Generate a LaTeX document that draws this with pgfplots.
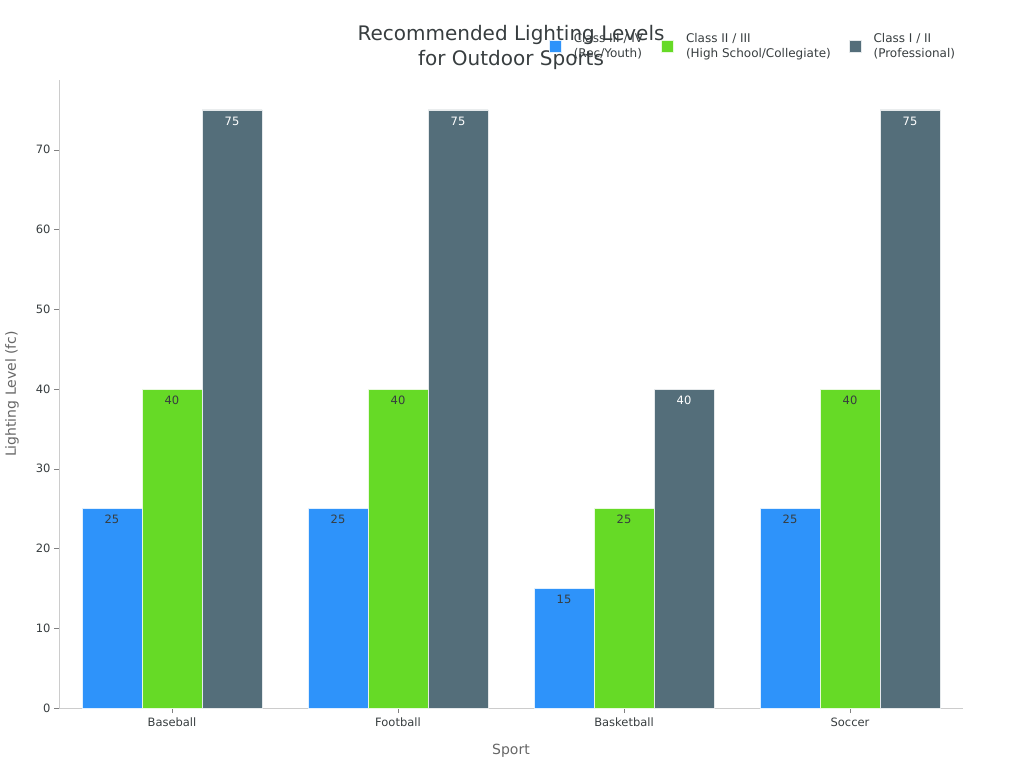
\documentclass[border=0pt]{standalone}
\usepackage{pgfplots}
\pgfplotsset{compat=1.18}
\usepackage{fontspec}
\setmainfont{DejaVu Sans}

\definecolor{cBlue}{HTML}{2E93FA}
\definecolor{cGreen}{HTML}{66DA26}
\definecolor{cGray}{HTML}{546E7A}
\definecolor{txt}{HTML}{373D3F}
\definecolor{axgray}{HTML}{CCCCCC}

\begin{document}
\begin{tikzpicture}
  \path[use as bounding box] (0,0) rectangle (1024pt,768pt);
  \begin{axis}[
      at={(59pt,60pt)}, anchor=south west,
      scale only axis,
      width=904pt, height=628pt,
      ybar=0pt,
      bar width=60pt,
      xmin=-0.5, xmax=3.5,
      ymin=0, ymax=78.75,
      xtick=data,
      xticklabels={Baseball, Football, Basketball, Soccer},
      ytick={0,10,...,70},
      axis x line*=bottom,
      axis y line*=left,
      axis line style={axgray},
      tick align=outside,
      major tick length=5pt,
      tick style={gray},
      /pgf/number format/assume math mode=true,
      tick label style={font=\fontsize{11.5}{13}\selectfont, text=txt},
      x tick label style={yshift=-1pt},
      title={Recommended Lighting Levels\\for Outdoor Sports},
      title style={at={(axis description cs:0.5,1)}, anchor=south, yshift=1pt,
        align=center, font=\fontsize{20}{25}\selectfont, text=txt},
      xlabel={Sport},
      ylabel={Lighting Level (fc)},
      label style={font=\fontsize{14}{16}\selectfont, text=black!60},
      xlabel style={at={(axis description cs:0.5,-0.0685)}, anchor=center},
      ylabel style={at={(axis description cs:-0.052,0.5)}, anchor=center},
      nodes near coords,
      nodes near coords align={below},
      every node near coord/.append style={font=\fontsize{11.5}{13}\selectfont, yshift=-3pt},
      legend columns=3,
      legend cell align=left,
      legend style={
        at={(axis description cs:0.997,1.081)}, anchor=north east,
        draw=none, fill=none,
        font=\fontsize{12}{15}\selectfont, text=txt,
        cells={align=left},
        /tikz/every odd column/.append style={column sep=10pt},
        /tikz/every even column/.append style={column sep=16pt},
      },
      legend image code/.code={\fill[#1] (0pt,-6pt) rectangle (12pt,6pt);},
    ]
    \addplot[fill=cBlue, draw=white!85!cBlue, line width=0.8pt,
      every node near coord/.append style={text=txt}] coordinates {
      (0,25) (1,25) (2,15) (3,25)
    };
    \addplot[fill=cGreen, draw=white!85!cGreen, line width=0.8pt,
      every node near coord/.append style={text=txt}] coordinates {
      (0,40) (1,40) (2,25) (3,40)
    };
    \addplot[fill=cGray, draw=white!85!cGray, line width=0.8pt,
      every node near coord/.append style={text=white}] coordinates {
      (0,75) (1,75) (2,40) (3,75)
    };
    \legend{Class III / IV\\(Rec/Youth), Class II / III\\(High School/Collegiate), Class I / II\\(Professional)}
  \end{axis}
\end{tikzpicture}
\end{document}
